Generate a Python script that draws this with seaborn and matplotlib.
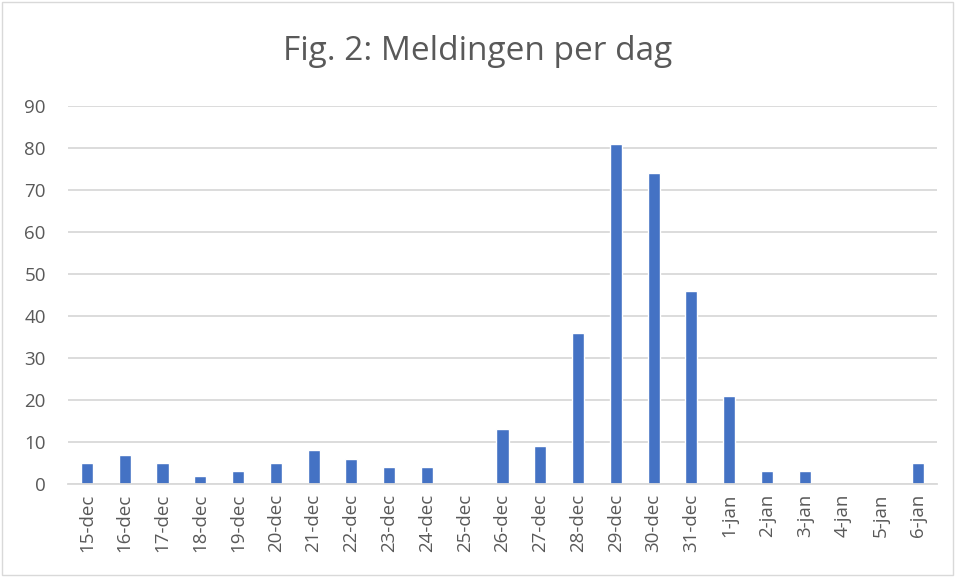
import matplotlib
matplotlib.use("Agg")
import matplotlib.pyplot as plt
import seaborn as sns
import pandas as pd
from matplotlib.patches import Rectangle

days = ['15-dec', '16-dec', '17-dec', '18-dec', '19-dec', '20-dec', '21-dec',
        '22-dec', '23-dec', '24-dec', '25-dec', '26-dec', '27-dec', '28-dec',
        '29-dec', '30-dec', '31-dec', '1-jan', '2-jan', '3-jan', '4-jan',
        '5-jan', '6-jan']
meldingen = [5, 7, 5, 2, 3, 5, 8, 6, 4, 4, 0, 13, 9, 36, 81, 74, 46, 21, 3, 3,
             0, 0, 5]
y_ticks = [0, 10, 20, 30, 40, 50, 60, 70, 80, 90]

df = pd.DataFrame({'dag': days, 'meldingen': meldingen})

sns.set_style("white")
plt.rcParams['font.family'] = ['Open Sans', 'DejaVu Sans']

fig = plt.figure(figsize=(9.55, 5.77), dpi=100)
ax = fig.add_axes([68 / 955, 1 - 484 / 577, (937 - 68) / 955, (484 - 106) / 577])

grid_col = '#d9d9d9'
text_col = '#595959'

sns.barplot(data=df, x='dag', y='meldingen', color='#4472C4', width=0.32,
            saturation=1, ax=ax, zorder=3)

ax.set_xlim(-0.5, len(days) - 0.5)
ax.set_ylim(0, 90)
ax.set_yticks(y_ticks)
ax.yaxis.grid(True, color=grid_col, linewidth=1.3, zorder=0)
ax.set_axisbelow(True)

for s in ['top', 'right', 'left']:
    ax.spines[s].set_visible(False)
ax.spines['bottom'].set_color(grid_col)
ax.spines['bottom'].set_linewidth(1.3)
ax.spines['bottom'].set_zorder(4)

ax.set_xticks(range(len(days)))
ax.set_xticklabels(days, rotation=90, fontsize=13.5, color=text_col)
ax.set_xticks([i - 0.5 for i in range(len(days) + 1)], minor=True)
ax.tick_params(axis='x', which='major', length=0, pad=7)
ax.tick_params(axis='x', which='minor', length=6, width=1.3, color=grid_col)
ax.tick_params(axis='y', length=0, labelsize=13.5, labelcolor=text_col, pad=16)

ax.set_xlabel('')
ax.set_ylabel('')

fig.text(0.5, 1 - 52 / 577, 'Fig. 2: Meldingen per dag', ha='center', va='center',
         fontsize=24, color=text_col)

fig.add_artist(Rectangle((0.002, 0.003), 0.996, 0.994, transform=fig.transFigure,
                         fill=False, edgecolor=grid_col, linewidth=1))

plt.savefig('out.png', dpi=100)
